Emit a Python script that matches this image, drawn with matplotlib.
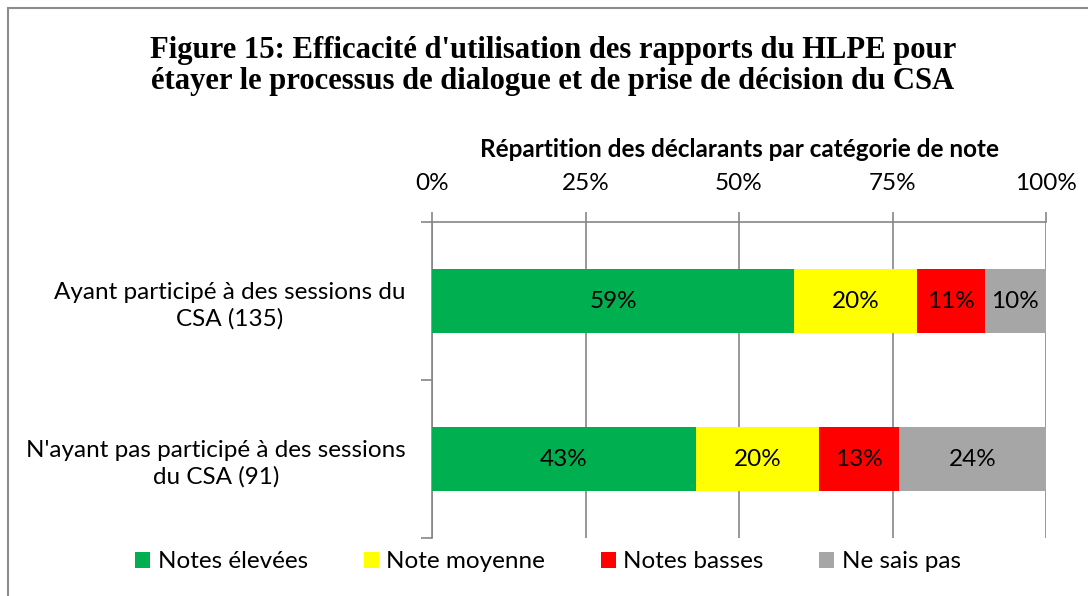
import numpy as np
import matplotlib.pyplot as plt
from matplotlib.patches import Rectangle

groups = ["Ayant participé à des sessions du\nCSA (135)",
          "N'ayant pas participé à des sessions\ndu CSA (91)"]
series = ["Notes élevées", "Note moyenne", "Notes basses", "Ne sais pas"]
values = np.array([[59, 20, 11, 10],
                   [43, 20, 13, 24]])
colors = ["#00B050", "#FFFF00", "#FF0000", "#A6A6A6"]
ticks = [0, 25, 50, 75, 100]

plt.rcParams['font.family'] = ['Lato', 'DejaVu Sans']
grey = "#868686"
fs = 17.5

fig = plt.figure(figsize=(10.88, 5.96), dpi=100)
fig.patches.append(Rectangle((8 / 1088, -0.1), 1.2, 1.1 - 8 / 596,
                             transform=fig.transFigure, fill=False,
                             edgecolor="#8c8c8c", linewidth=1.5))

ax = fig.add_axes([432 / 1088, 1 - 538 / 596, 614 / 1088, 316 / 596])

ypos = np.arange(len(groups)) + 0.5
left = np.zeros(len(groups))
for j, name in enumerate(series):
    ax.barh(ypos, values[:, j], left=left, height=0.4, color=colors[j],
            label=name, zorder=3)
    for i in range(len(groups)):
        ax.text(left[i] + values[i, j] / 2, ypos[i], f"{values[i, j]}%",
                ha="center", va="center", fontsize=fs, zorder=4)
    left += values[:, j]

ax.set_xlim(0, 100)
ax.set_ylim(2, 0)
ax.xaxis.tick_top()
ax.xaxis.set_label_position("top")
ax.set_xticks(ticks)
ax.set_xticklabels([f"{t}%" for t in ticks], fontsize=fs)
ax.set_xlabel("Répartition des déclarants par catégorie de note",
              fontsize=fs, fontweight="bold", labelpad=12)
ax.tick_params(axis="x", direction="out", length=7, color=grey, width=1.2, pad=13)
ax.grid(axis="x", color=grey, linewidth=1.2, zorder=0)

ax.set_yticks([0, 1, 2])
ax.set_yticklabels([])
ax.set_yticks(ypos, minor=True)
ax.set_yticklabels(groups, minor=True, fontsize=fs, multialignment="center",
                   linespacing=1.3)
ax.tick_params(axis="y", which="major", direction="out", length=8, color=grey, width=1.2)
ax.tick_params(axis="y", which="minor", length=0, pad=19)

for s in ["right", "bottom"]:
    ax.spines[s].set_visible(False)
for s in ["left", "top"]:
    ax.spines[s].set_color(grey)
    ax.spines[s].set_linewidth(1.2)

fig.text(0.508, 1 - 66 / 596,
         "Figure 15: Efficacité d'utilisation des rapports du HLPE pour\n"
         "étayer le processus de dialogue et de prise de décision du CSA",
         ha="center", va="center", fontsize=22.1, fontweight="bold",
         family="Liberation Serif", linespacing=1.12)

fig.legend(loc="center", bbox_to_anchor=(548 / 1088, 1 - 562 / 596), ncol=4,
           frameon=False, fontsize=fs, handlelength=0.62, handleheight=0.62,
           handletextpad=0.3, columnspacing=2.3)

fig.savefig("out.png", dpi=100)
